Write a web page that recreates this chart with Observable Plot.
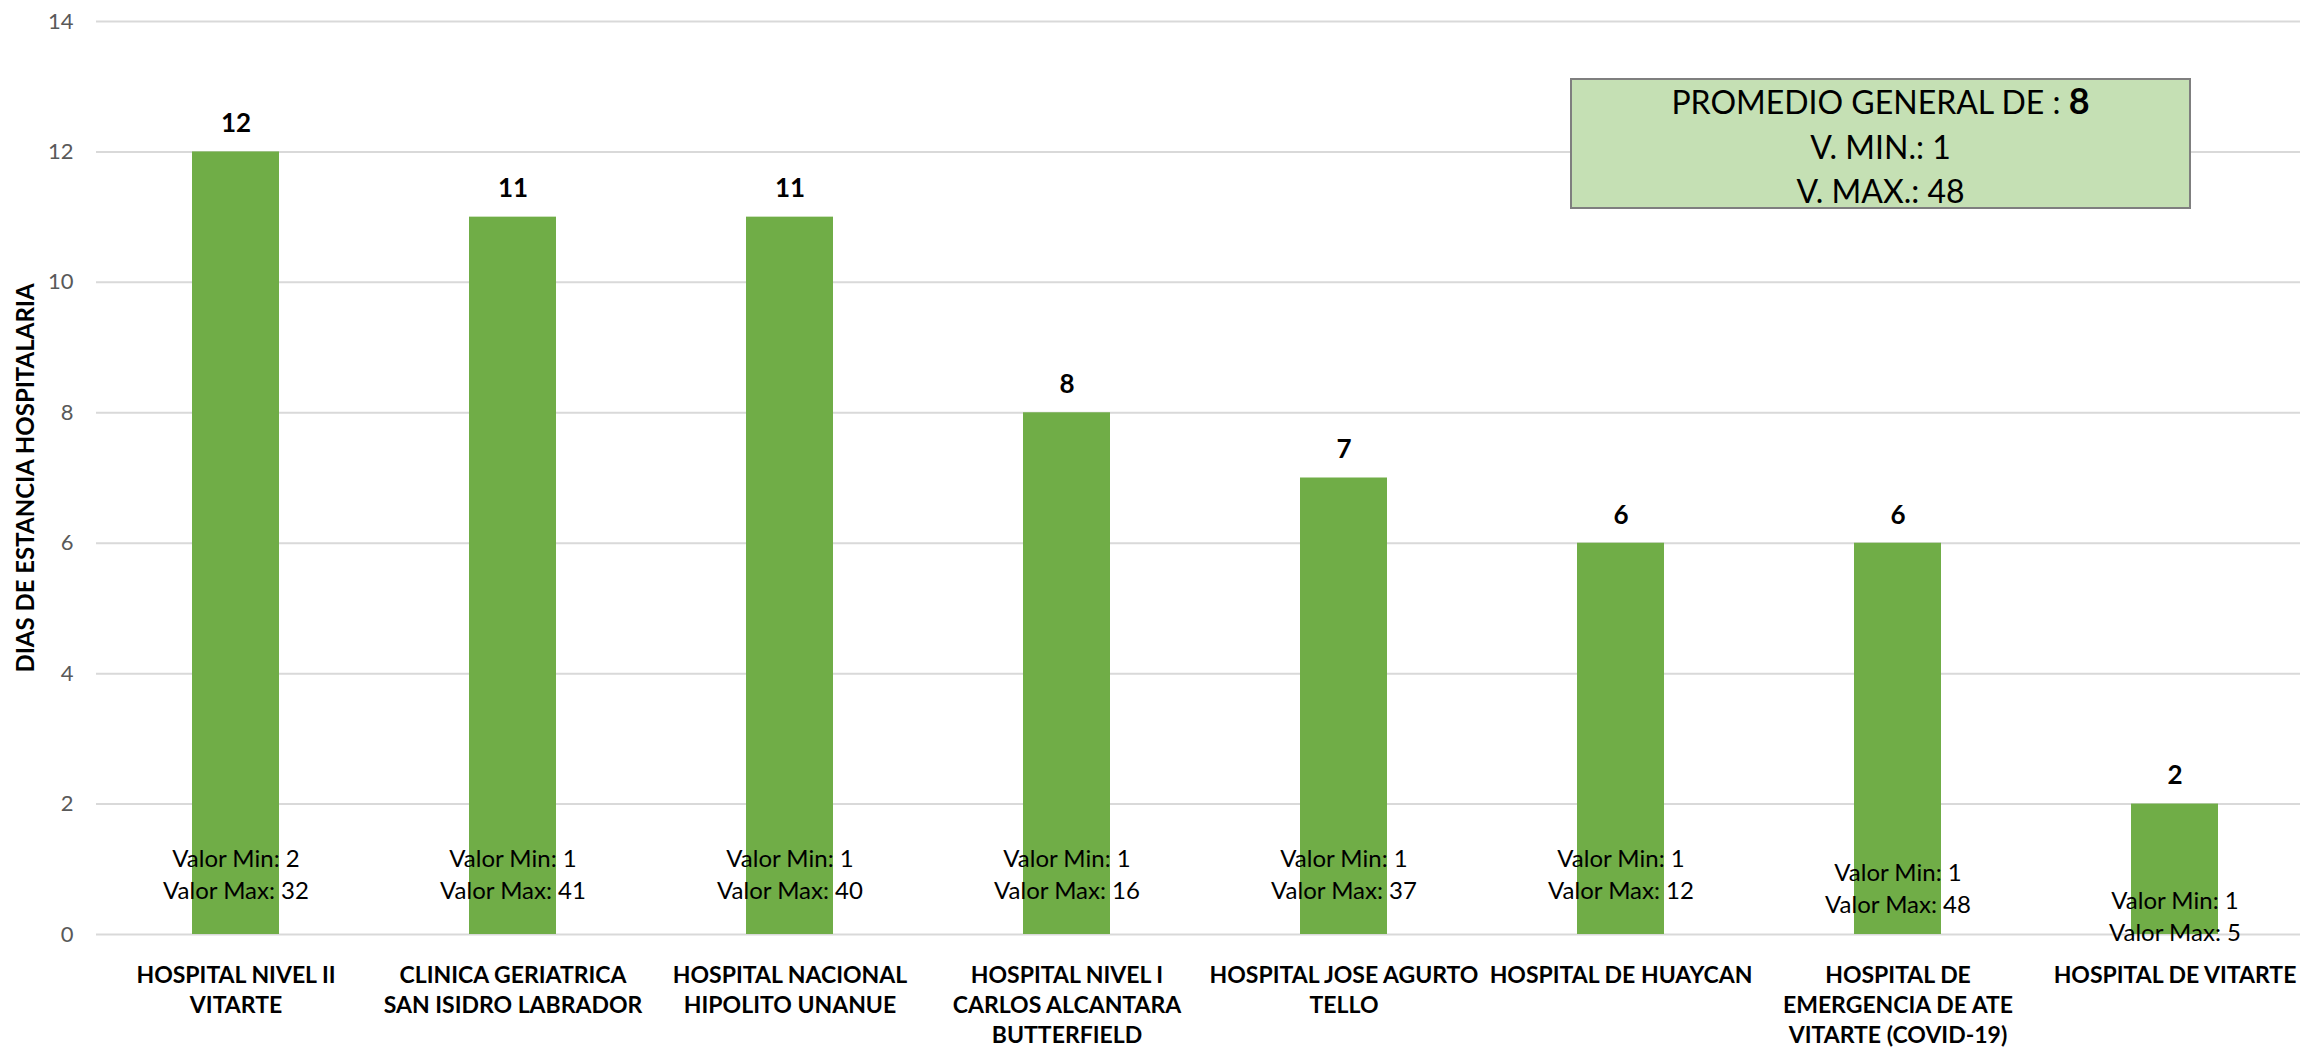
<!DOCTYPE html>
<html>
<head>
<meta charset="utf-8">
<script src="https://cdn.jsdelivr.net/npm/d3@7"></script>
<script src="https://cdn.jsdelivr.net/npm/@observablehq/plot@0.6"></script>
<style>
  html, body { margin: 0; padding: 0; background: #fff; overflow: hidden; }
  #chart svg { display: block; }
</style>
</head>
<body>
<div id="chart"></div>
<script>
// ---- data ----
const hospitals = [
  "HOSPITAL NIVEL II VITARTE",
  "CLINICA GERIATRICA SAN ISIDRO LABRADOR",
  "HOSPITAL NACIONAL HIPOLITO UNANUE",
  "HOSPITAL NIVEL I CARLOS ALCANTARA BUTTERFIELD",
  "HOSPITAL JOSE AGURTO TELLO",
  "HOSPITAL DE HUAYCAN",
  "HOSPITAL DE EMERGENCIA DE ATE VITARTE (COVID-19)",
  "HOSPITAL DE VITARTE"
];
const tickLabels = [
  "HOSPITAL NIVEL II\nVITARTE",
  "CLINICA GERIATRICA\nSAN ISIDRO LABRADOR",
  "HOSPITAL NACIONAL\nHIPOLITO UNANUE",
  "HOSPITAL NIVEL I\nCARLOS ALCANTARA\nBUTTERFIELD",
  "HOSPITAL JOSE AGURTO\nTELLO",
  "HOSPITAL DE HUAYCAN",
  "HOSPITAL DE\nEMERGENCIA DE ATE\nVITARTE (COVID-19)",
  "HOSPITAL DE VITARTE"
];
const diasEstancia = [12, 11, 11, 8, 7, 6, 6, 2];
const valorMin = [2, 1, 1, 1, 1, 1, 1, 1];
const valorMax = [32, 41, 40, 16, 37, 12, 48, 5];
const yTicks = [0, 2, 4, 6, 8, 10, 12, 14];
const yLabel = "DIAS DE ESTANCIA HOSPITALARIA";
const promedioGeneral = 8;
const vMinGeneral = 1;
const vMaxGeneral = 48;

// ---- layout (pixel offsets for the min/max labels, per bar) ----
const valorDy = [-62, -62, -62, -62, -62, -62, -48, -20];

const rows = hospitals.map((h, i) => ({
  hospital: h,
  tick: tickLabels[i],
  dias: diasEstancia[i],
  minmax: `Valor Min: ${valorMin[i]}\nValor Max: ${valorMax[i]}`,
  i
}));

const FONT = "Lato, 'Open Sans', sans-serif";

const valorMarks = rows.map(r => Plot.text([r], {
  x: "hospital", frameAnchor: "bottom", text: "minmax",
  lineAnchor: "middle", lineHeight: 1.34, dy: valorDy[r.i],
  fontSize: 24, fill: "#000"
}));

const chart = Plot.plot({
  width: 2300,
  height: 1047,
  marginLeft: 96,
  marginRight: -14,
  marginTop: 21,
  marginBottom: 113,
  style: { fontFamily: FONT, background: "#fff", overflow: "visible" },
  x: { domain: hospitals, paddingInner: 0.686, paddingOuter: 0.343, axis: null },
  y: { domain: [0, 14], axis: null },
  marks: [
    Plot.gridY(yTicks, { stroke: "#D9D9D9", strokeWidth: 2, strokeOpacity: 1 }),
    Plot.axisY(yTicks, { tickSize: 0, tickPadding: 23, fontSize: 22, fill: "#595959",
      tickFormat: d => String(d), label: null }),
    Plot.barY(rows, { x: "hospital", y: "dias", fill: "#70AD47" }),
    Plot.text(rows, { x: "hospital", y: "dias", text: d => String(d.dias), dy: -28,
      lineAnchor: "middle", fontSize: 26, fontWeight: "bold", fill: "#000" }),
    ...valorMarks,
    Plot.text(rows, { x: "hospital", frameAnchor: "bottom", text: "tick", lineAnchor: "top",
      dy: 27, lineHeight: 1.3, fontSize: 23, fontWeight: "bold", fill: "#000" }),
    Plot.text([yLabel], { frameAnchor: "left", textAnchor: "middle", rotate: -90, dx: -70,
      fontSize: 24, fontWeight: "bold", fill: "#000" })
  ]
});

document.getElementById("chart").appendChild(chart);

// ---- summary box annotation ----
const svg = d3.select(chart);
const box = svg.append("g").attr("font-family", FONT);
box.append("rect")
  .attr("x", 1571).attr("y", 79).attr("width", 619).attr("height", 129)
  .attr("fill", "#C5E0B4").attr("stroke", "#7F7F7F").attr("stroke-width", 2);
const cx = 1571 + 619 / 2;
const t1 = box.append("text").attr("x", cx).attr("y", 103).attr("dy", "0.35em")
  .attr("text-anchor", "middle").attr("font-size", 32).attr("fill", "#000");
t1.append("tspan").text("PROMEDIO GENERAL DE : ");
t1.append("tspan").attr("font-weight", "bold").attr("font-size", 36).text(String(promedioGeneral));
box.append("text").attr("x", cx).attr("y", 148).attr("dy", "0.35em")
  .attr("text-anchor", "middle").attr("font-size", 32).attr("fill", "#000")
  .text(`V. MIN.: ${vMinGeneral}`);
box.append("text").attr("x", cx).attr("y", 192).attr("dy", "0.35em")
  .attr("text-anchor", "middle").attr("font-size", 32).attr("fill", "#000")
  .text(`V. MAX.: ${vMaxGeneral}`);
</script>
</body>
</html>
